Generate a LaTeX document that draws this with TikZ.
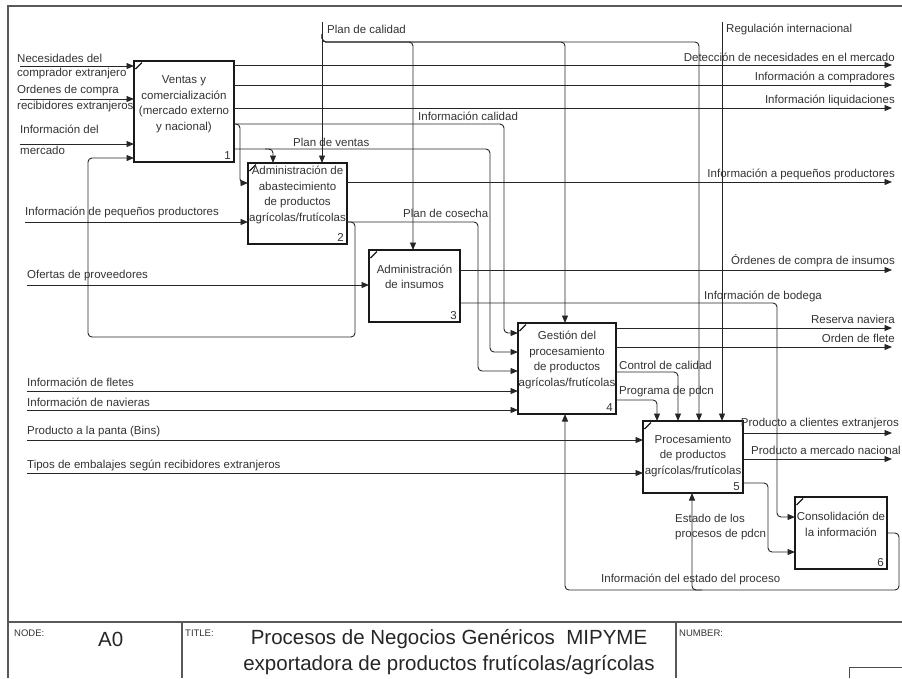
\documentclass[tikz,border=0pt]{standalone}
\usepackage{fontspec}
\setmainfont{Liberation Sans}
\usetikzlibrary{arrows.meta}
\begin{document}
\begin{tikzpicture}[x=1pt,y=-1pt,
  lbl/.style={font=\fontsize{11.5}{13.5}\selectfont, text=black!80, inner sep=0pt},
  boxtext/.style={font=\fontsize{11.5}{15.5}\selectfont, text=black!80, inner sep=0pt, align=center},
  box/.style={draw=black!90, line width=1.8pt, inner sep=0pt, outer sep=0pt, fill=white},
  conn/.style={draw=black!85, line width=0.9pt, rounded corners=4pt},
  arr/.style={conn, -{Triangle[length=7.5pt,width=6pt]}},
  frame/.style={draw=black!65, line width=1.4pt},
  small/.style={font=\fontsize{9.5}{11}\selectfont, text=black!80, inner sep=0pt},
  big/.style={font=\fontsize{20.5}{25}\selectfont, text=black!85, inner sep=0pt}
]
\useasboundingbox (0,0) rectangle (902,678);

% frame and footer
\draw[frame] (8,678) -- (8,6) -- (902,6);
\draw[frame] (8,622) -- (902,622);
\draw[frame] (182,622) -- (182,678);
\draw[frame] (676,622) -- (676,678);
\draw[draw=black!70, line width=0.9pt] (849,678) -- (849,667) -- (902,667);
\node[small, anchor=west] (fnode) at (14,633) {NODE:};
\node[big, anchor=west] (fa0) at (98,639) {A0};
\node[small, anchor=west] (ftitle) at (185,633) {TITLE:};
\node[big, anchor=center] (ft1) at (449,639) {Procesos de Negocios Genéricos\ \ MIPYME};
\node[big, anchor=center] (ft2) at (449,665) {exportadora de productos frutícolas/agrícolas};
\node[small, anchor=west] (fnum) at (679,633) {NUMBER:};

% boxes
\node[box, minimum width=100pt, minimum height=101pt] (b1) at (184,111.5) {};
\node[box, minimum width=99pt, minimum height=81pt] (b2) at (297.5,203.5) {};
\node[box, minimum width=91pt, minimum height=72pt] (b3) at (414.5,286) {};
\node[box, minimum width=98pt, minimum height=91pt] (b4) at (567,368.5) {};
\node[box, minimum width=100pt, minimum height=72pt] (b5) at (693,457) {};
\node[box, minimum width=92pt, minimum height=72pt] (b6) at (841,533) {};

\foreach \b/\n in {b1/1,b2/2,b3/3,b4/4,b5/5,b6/6}{
  \draw[line width=1.2pt, black!90] ([shift={(1.5,8)}]\b.north west) -- ([shift={(8,1.5)}]\b.north west);
  \node[lbl, anchor=south east] (n\n) at ([shift={(-3,-2.5)}]\b.south east) {\n};
}

\node[boxtext] (t1) at (184,104) {Ventas y\\comercialización\\(mercado externo\\y nacional)};
\node[boxtext] (t2) at (297.5,195) {Administración de\\abastecimiento\\de productos\\agrícolas/frutícolas};
\node[boxtext] (t3) at (414.5,277) {Administración\\de insumos};
\node[boxtext] (t4) at (567,360) {Gestión del\\procesamiento\\de productos\\agrícolas/frutícolas};
\node[boxtext] (t5) at (693,456) {Procesamiento\\de productos\\agrícolas/frutícolas};
\node[boxtext] (t6) at (841,524.5) {Consolidación de\\la información};

% free ends
\coordinate (in1) at (20,66);
\coordinate (in2) at (20,99);
\coordinate (in3) at (20,144);
\coordinate (in4) at (25,222);
\coordinate (in5) at (27,285);
\coordinate (in6) at (27,391);
\coordinate (in7) at (27,410);
\coordinate (in8) at (27,440);
\coordinate (in9) at (27,473);
\coordinate (o1) at (892,65);
\coordinate (o2) at (892,85);
\coordinate (o3) at (892,108);
\coordinate (o4) at (892,182);
\coordinate (o5) at (892,270);
\coordinate (o6) at (892,328);
\coordinate (o7) at (892,347);
\coordinate (o8) at (892,433);
\coordinate (o9) at (892,459);
\coordinate (c1) at (322,22);
\coordinate (c2) at (722,22);

% inputs
\foreach \i/\b in {in1/b1,in2/b1,in3/b1,in4/b2,in5/b3,in6/b4,in7/b4,in8/b5,in9/b5}
  \draw[arr] (\i) -- (\i -| \b.west);
% outputs
\foreach \o/\b in {o1/b1,o2/b1,o3/b1,o4/b2,o5/b3,o6/b4,o7/b4,o8/b5,o9/b5}
  \draw[arr] (\o -| \b.east) -- (\o);

% controls from top
\draw[arr] (c1) -- (c1 |- b2.north);
\draw[arr] (322,34) -- (322,42) -- (413,42) -- (413,250);
\draw[arr] (322,34) -- (322,42) -- (565,42) -- (565,323);
\draw[arr] (322,34) -- (322,42) -- (699,42) -- (699,421);
\draw[arr] (c2) -- (c2 |- b5.north);

% internal connectors
\draw[arr] (b1.east |- 0,124) -- (504,124) -- (504,333) -- (b4.west |- 0,333);
\draw[arr] (b1.east |- 0,124) -- (240,124) -- (240,183) -- (b2.west |- 0,183);
\draw[arr] (b1.east |- 0,149) -- (490,149) -- (490,352) -- (b4.west |- 0,352);
\draw[arr] (265,149) -- (273,149) -- (b2.north -| 273,0);
\draw[arr] (b2.east |- 0,222) -- (478,222) -- (478,371) -- (b4.west |- 0,371);
\draw[arr] (b2.east |- 0,222) -- (355,222) -- (355,337) -- (88,337) -- (88,158) -- (b1.west |- 0,158);
\draw[arr] (b3.east |- 0,303) -- (777,303) -- (777,517) -- (b6.west |- 0,517);
\draw[arr] (b4.east |- 0,372) -- (678,372) -- (b5.north -| 678,0);
\draw[arr] (b4.east |- 0,400) -- (657,400) -- (b5.north -| 657,0);
\draw[arr] (b5.east |- 0,483) -- (768,483) -- (768,552) -- (b6.west |- 0,552);
\draw[arr] (b6.east |- 0,533) -- (899,533) -- (899,590) -- (565,590) -- (b4.south -| 565,0);
\draw[arr] (702,590) -- (692,590) -- (b5.south -| 692,0);

% left labels
\node[lbl, anchor=west] (l1) at (17,58) {Necesidades del};
\node[lbl, anchor=west] (l2) at (17,74) {comprador extranjero};
\node[lbl, anchor=west] (l3) at (17,91) {Ordenes de compra};
\node[lbl, anchor=west] (l4) at (17,107) {recibidores extranjeros};
\node[lbl, anchor=west] (l5) at (20,129) {Información del};
\node[lbl, anchor=west] (l6) at (20,150) {mercado};
\node[lbl, anchor=west] (l7) at (25,212) {Información de pequeños productores};
\node[lbl, anchor=west] (l8) at (27,276) {Ofertas de proveedores};
\node[lbl, anchor=west] (l9) at (27,382) {Información de fletes};
\node[lbl, anchor=west] (l10) at (27,402) {Información de navieras};
\node[lbl, anchor=west] (l11) at (27,432) {Producto a la panta (Bins)};
\node[lbl, anchor=west] (l12) at (27,465) {Tipos de embalajes según recibidores extranjeros};

% top labels
\node[lbl, anchor=west] (lc1) at (327,29) {Plan de calidad};
\node[lbl, anchor=west] (lc2) at (726,29) {Regulación internacional};

% right labels
\node[lbl, anchor=east] (r1) at (895,57) {Detección de necesidades en el mercado};
\node[lbl, anchor=east] (r2) at (895,77) {Información a compradores};
\node[lbl, anchor=east] (r3) at (895,100) {Información liquidaciones};
\node[lbl, anchor=east] (r4) at (895,174) {Información a pequeños productores};
\node[lbl, anchor=east] (r5) at (895,261) {Órdenes de compra de insumos};
\node[lbl, anchor=east] (r6) at (895,319) {Reserva naviera};
\node[lbl, anchor=east] (r7) at (895,338) {Orden de flete};
\node[lbl, anchor=east] (r8) at (899,424) {Producto a clientes extranjeros};
\node[lbl, anchor=east] (r9) at (901,450) {Producto a mercado nacional};

% internal labels
\node[lbl, anchor=west] (m1) at (293,142) {Plan de ventas};
\node[lbl, anchor=west] (m2) at (418,116) {Información calidad};
\node[lbl, anchor=west] (m3) at (403,213) {Plan de cosecha};
\node[lbl, anchor=west] (m4) at (704,296) {Información de bodega};
\node[lbl, anchor=west] (m5) at (619,365) {Control de calidad};
\node[lbl, anchor=west] (m6) at (619,392) {Programa de pdcn};
\node[lbl, anchor=west] (m7) at (675,518) {Estado de los};
\node[lbl, anchor=west] (m8) at (675,535) {procesos de pdcn};
\node[lbl, anchor=west] (m9) at (601,579) {Información del estado del proceso};
\end{tikzpicture}
\end{document}
